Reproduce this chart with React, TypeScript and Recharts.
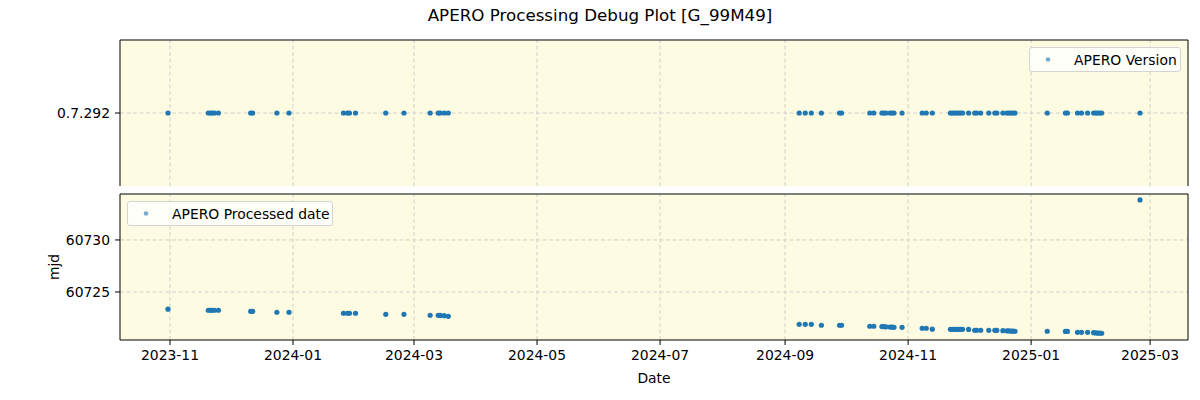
import React from 'react';
import { ScatterChart, Scatter, XAxis, YAxis, CartesianGrid, Legend, ReferenceLine } from 'recharts';

// observation dates and the mjd each one was processed at
const obsDates = [
  '2023-10-31', '2023-11-20', '2023-11-21', '2023-11-22', '2023-11-23', '2023-11-25',
  '2023-12-11', '2023-12-12', '2023-12-24', '2023-12-30',
  '2024-01-26', '2024-01-28', '2024-01-29', '2024-02-01', '2024-02-16', '2024-02-25',
  '2024-03-09', '2024-03-13', '2024-03-14', '2024-03-16', '2024-03-18',
  '2024-09-08', '2024-09-11', '2024-09-14', '2024-09-19', '2024-09-28', '2024-09-29',
  '2024-10-13', '2024-10-15', '2024-10-19', '2024-10-20', '2024-10-21', '2024-10-23', '2024-10-24', '2024-10-25', '2024-10-29',
  '2024-11-08', '2024-11-10', '2024-11-13', '2024-11-22', '2024-11-23', '2024-11-24', '2024-11-25', '2024-11-26', '2024-11-27', '2024-11-28',
  '2024-12-01', '2024-12-04', '2024-12-05', '2024-12-07', '2024-12-11', '2024-12-14', '2024-12-15', '2024-12-18',
  '2024-12-20', '2024-12-21', '2024-12-22', '2024-12-23', '2024-12-24',
  '2025-01-09', '2025-01-18', '2025-01-19', '2025-01-24', '2025-01-26', '2025-01-29',
  '2025-02-01', '2025-02-02', '2025-02-03', '2025-02-04', '2025-02-05', '2025-02-24',
];

const processedMjd = [
  60723.34, 60723.24, 60723.24, 60723.24, 60723.24, 60723.24,
  60723.14, 60723.14, 60723.05, 60723.05,
  60722.95, 60722.95, 60722.95, 60722.95, 60722.85, 60722.85,
  60722.76, 60722.75, 60722.74, 60722.72, 60722.66,
  60721.89, 60721.89, 60721.89, 60721.80, 60721.80, 60721.80,
  60721.70, 60721.70, 60721.68, 60721.66, 60721.65, 60721.63, 60721.61, 60721.60, 60721.60,
  60721.51, 60721.51, 60721.42, 60721.41, 60721.41, 60721.41, 60721.41, 60721.41, 60721.41, 60721.41,
  60721.40, 60721.32, 60721.32, 60721.32, 60721.31, 60721.31, 60721.31, 60721.28,
  60721.26, 60721.25, 60721.24, 60721.23, 60721.22,
  60721.22, 60721.20, 60721.20, 60721.12, 60721.12, 60721.12,
  60721.08, 60721.06, 60721.05, 60721.04, 60721.03, 60733.85,
];

const versionLevels = ['0.7.292'];
const apeVersion = '0.7.292';

const monthTicks = [
  '2023-11-01', '2024-01-01', '2024-03-01', '2024-05-01', '2024-07-01',
  '2024-09-01', '2024-11-01', '2025-01-01', '2025-03-01',
];
const mjdTicks = [60725, 60730];
const xDomainDates = ['2023-10-07T05:00:00Z', '2025-03-19T19:00:00Z'];
const mjdDomain = [60720.38, 60734.42];
const versionDomain = [-1, 1];

const toMs = (d: string) => Date.parse(d.length === 10 ? d + 'T00:00:00Z' : d);

const rows = obsDates.map((d, i) => ({
  t: toMs(d),
  version: versionLevels.indexOf(apeVersion),
  mjd: processedMjd[i],
}));

const xTicks = monthTicks.map(toMs);
const xDomain = xDomainDates.map(toMs);
const versionTicks = versionLevels.map((_, i) => i);

const FONT = '"DejaVu Sans", sans-serif';
const BLUE = '#1f77b4';
const BG = '#fdfce2';
const GRID = '#d0d0ca';
const DASH = '4 2.5';

const fmtMonth = (v: number) => {
  const d = new Date(v);
  return `${d.getUTCFullYear()}-${String(d.getUTCMonth() + 1).padStart(2, '0')}`;
};

const Dot = (props: any) => <circle cx={props.cx} cy={props.cy} r={2.6} fill={BLUE} />;

const LegendBox = ({ label, width }: { label: string; width: number }) => (
  <div
    style={{
      width,
      height: 25,
      boxSizing: 'border-box',
      border: '1px solid #d4d4d4',
      borderRadius: 3,
      background: 'rgba(255,255,255,0.8)',
      display: 'flex',
      alignItems: 'center',
      fontFamily: FONT,
      fontSize: 13.9,
      color: '#000',
    }}
  >
    <svg width={44} height={23}>
      <circle cx={18} cy={11.5} r={2.3} fill={BLUE} fillOpacity={0.6} />
    </svg>
    <span>{label}</span>
  </div>
);

const MjdLabel = (props: any) => {
  const vb = props.viewBox;
  const x = vb.x + 54;
  const y = vb.y + vb.height / 2;
  return (
    <text x={x} y={y} transform={`rotate(-90, ${x}, ${y})`} textAnchor="middle" dominantBaseline="central"
      fontFamily={FONT} fontSize={13.9} fill="#000">
      mjd
    </text>
  );
};

const tickStyle = { fontFamily: FONT, fontSize: 13.9, fill: '#000' };

// dashed grid lines drawn at the tick values through the chart's own scales
const gridX = () =>
  xTicks.map((t) => <ReferenceLine key={`gx${t}`} x={t} stroke={GRID} strokeDasharray={DASH} />);
const gridY = (vals: number[]) =>
  vals.map((v) => <ReferenceLine key={`gy${v}`} y={v} stroke={GRID} strokeDasharray={DASH} />);

export default function App() {
  return (
    <div style={{ position: 'absolute', top: 0, left: 0, width: 1200, height: 400, background: '#fff' }}>
      <div style={{ position: 'absolute', top: 5, left: 0, width: 1200, textAlign: 'center', fontFamily: FONT, fontSize: 16.7, color: '#000' }}>
        APERO Processing Debug Plot [G_99M49]
      </div>

      <div style={{ position: 'absolute', top: 0, left: 0 }}>
        <ScatterChart width={1200} height={190} data={rows} margin={{ top: 40, right: 12, left: 0, bottom: 4 }}>
          <CartesianGrid fill={BG} horizontal={false} vertical={false} />
          <XAxis dataKey="t" type="number" domain={xDomain} ticks={xTicks} allowDataOverflow
            height={0} tickLine={false} tickFormatter={() => ''} axisLine={{ stroke: '#000' }} />
          <YAxis dataKey="version" type="number" domain={versionDomain} ticks={versionTicks} width={120}
            tickFormatter={(v: number) => versionLevels[v] ?? ''} tick={tickStyle}
            tickSize={5} tickMargin={5} tickLine={{ stroke: '#000' }} axisLine={{ stroke: '#000' }} />
          {gridX()}
          {gridY(versionTicks)}
          <ReferenceLine y={versionDomain[1]} stroke="#000" />
          <ReferenceLine x={xDomain[1]} stroke="#000" />
          <Legend layout="horizontal" verticalAlign="middle" align="center"
            wrapperStyle={{ top: 47, left: 1029, width: 152, height: 25 }}
            content={() => <LegendBox label="APERO Version" width={152} />} />
          <Scatter name="APERO Version" dataKey="version" fill={BLUE} shape={Dot} isAnimationActive={false} />
        </ScatterChart>
      </div>

      <div style={{ position: 'absolute', top: 190, left: 0 }}>
        <ScatterChart width={1200} height={210} data={rows} margin={{ top: 4, right: 12, left: 0, bottom: 15 }}>
          <CartesianGrid fill={BG} horizontal={false} vertical={false} />
          <XAxis dataKey="t" type="number" domain={xDomain} ticks={xTicks} allowDataOverflow
            height={45} tickFormatter={fmtMonth} tick={tickStyle} tickSize={5} tickMargin={5}
            tickLine={{ stroke: '#000' }} axisLine={{ stroke: '#000' }}
            label={{ value: 'Date', position: 'insideBottom', offset: 2, style: { fontFamily: FONT, fontSize: 13.9, fill: '#000' } }} />
          <YAxis dataKey="mjd" type="number" domain={mjdDomain} ticks={mjdTicks} allowDataOverflow width={120}
            tick={tickStyle} tickSize={5} tickMargin={5} tickLine={{ stroke: '#000' }} axisLine={{ stroke: '#000' }}
            label={<MjdLabel />} />
          {gridX()}
          {gridY(mjdTicks)}
          <ReferenceLine y={mjdDomain[1]} stroke="#000" />
          <ReferenceLine x={xDomain[1]} stroke="#000" />
          <Legend layout="horizontal" verticalAlign="middle" align="center"
            wrapperStyle={{ top: 11, left: 127, width: 206, height: 25 }}
            content={() => <LegendBox label="APERO Processed date" width={206} />} />
          <Scatter name="APERO Processed date" dataKey="mjd" fill={BLUE} shape={Dot} isAnimationActive={false} />
        </ScatterChart>
      </div>
    </div>
  );
}
